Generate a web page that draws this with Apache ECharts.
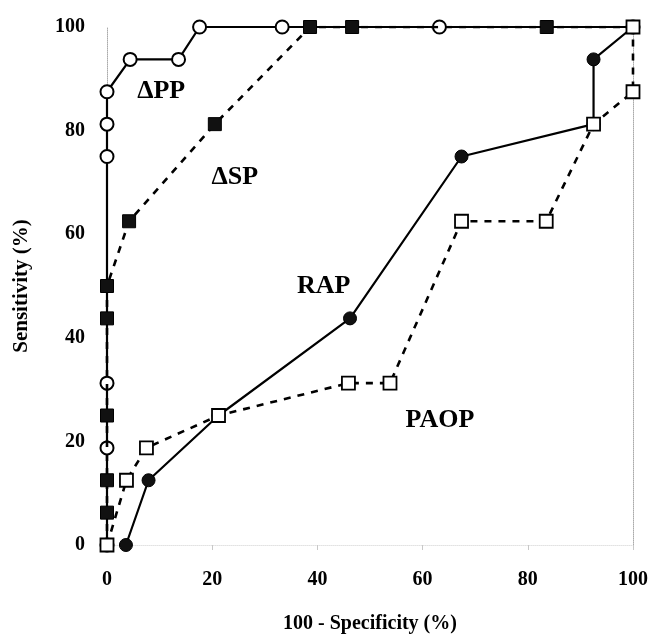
<!DOCTYPE html>
<html>
<head>
<meta charset="utf-8">
<script src="https://cdn.jsdelivr.net/npm/echarts@6/dist/echarts.min.js"></script>
<style>
  html, body { margin: 0; padding: 0; background: #fff; }
  #chart { width: 653px; height: 636px; }
</style>
</head>
<body>
<div id="chart"></div>
<script>
// ROC curves: sensitivity vs (100 - specificity), both in percent
const xTicks = [0, 20, 40, 60, 80, 100];
const yTicks = [0, 20, 40, 60, 80, 100];

// ΔPP (open circles, solid line)
const dppX = [0, 0, 0, 0, 0, 0, 4.4, 13.6, 17.6, 33.3, 63.2, 100];
const dppY = [0, 18.75, 31.25, 75, 81.25, 87.5, 93.75, 93.75, 100, 100, 100, 100];

// ΔSP (filled squares, dotted line)
const dspX = [0, 0, 0, 0, 0, 0, 4.2, 20.5, 38.6, 46.6, 83.6, 100];
const dspY = [0, 6.25, 12.5, 25, 43.75, 50, 62.5, 81.25, 100, 100, 100, 100];

// RAP (filled circles, solid line)
const rapX = [3.6, 7.9, 21.2, 46.2, 67.4, 92.5, 92.5, 100];
const rapY = [0, 12.5, 25, 43.75, 75, 81.25, 93.75, 100];

// PAOP (open squares, dotted line)
const paopX = [0, 3.7, 7.5, 21.2, 45.9, 53.8, 67.4, 83.5, 92.5, 100, 100];
const paopY = [0, 12.5, 18.75, 25, 31.25, 31.25, 62.5, 62.5, 81.25, 87.5, 100];

// curve names written inside the plot
const curveNames = ['\u0394PP', '\u0394SP', 'RAP', 'PAOP'];

const pairs = (xs, ys) => xs.map((x, i) => [x, ys[i]]);

const FONT = '"Liberation Serif", "DejaVu Serif", serif';
const INK = '#000';

const chart = echarts.init(document.getElementById('chart'), null, { renderer: 'canvas' });

// where each curve name sits, in data units
const namePlaces = [[10.3, 87.6], [24.3, 71], [41.2, 50], [63.3, 24.1]];

const option = {
  animation: false,
  backgroundColor: '#fff',
  grid: { left: 107, right: 20, top: 27, bottom: 91, containLabel: false, outerBoundsMode: 'none' },
  xAxis: {
    type: 'value',
    min: xTicks[0],
    max: xTicks[xTicks.length - 1],
    interval: 20,
    name: '100 - Specificity (%)',
    nameLocation: 'middle',
    nameGap: 69,
    nameTextStyle: { fontFamily: FONT, fontWeight: 'bold', fontSize: 20, color: INK },
    axisLine: { show: true, lineStyle: { color: '#e2e2e2', type: 'dotted', width: 1 } },
    axisTick: { show: true, length: 5, lineStyle: { color: '#c8c8c8' } },
    axisLabel: { margin: 25, fontFamily: FONT, fontWeight: 'bold', fontSize: 20, color: INK },
    splitLine: { show: false }
  },
  yAxis: [{
    type: 'value',
    min: yTicks[0],
    max: yTicks[yTicks.length - 1],
    interval: 20,
    name: 'Sensitivity (%)',
    nameLocation: 'middle',
    nameGap: 75,
    nameTextStyle: { fontFamily: FONT, fontWeight: 'bold', fontSize: 21, color: INK },
    axisLine: { show: true, lineStyle: { color: '#aaa', type: 'dotted', width: 1 } },
    axisTick: { show: false },
    axisLabel: { margin: 22, fontFamily: FONT, fontWeight: 'bold', fontSize: 20, color: INK },
    splitLine: { show: false }
  }, {
    type: 'value',
    position: 'right',
    min: 0, max: 100, interval: 20,
    axisLine: { show: true, lineStyle: { color: '#aaa', type: 'dotted', width: 1 } },
    axisTick: { show: false },
    axisLabel: { show: false },
    splitLine: { show: false }
  }],
  series: [
    {
      name: curveNames[0],
      type: 'line',
      data: pairs(dppX, dppY),
      symbol: 'circle',
      symbolSize: 13,
      itemStyle: { color: '#fff', borderColor: INK, borderWidth: 2 },
      lineStyle: { color: INK, width: 2.2 },
      z: 2
    },
    {
      name: curveNames[1],
      type: 'line',
      data: pairs(dspX, dspY),
      symbol: 'rect',
      symbolSize: 13,
      itemStyle: { color: '#111', borderColor: INK, borderWidth: 1 },
      lineStyle: { color: INK, width: 2.6, type: [7, 7] },
      z: 3
    },
    {
      name: curveNames[2],
      type: 'line',
      data: pairs(rapX, rapY),
      symbol: 'circle',
      symbolSize: 13,
      itemStyle: { color: '#111', borderColor: INK, borderWidth: 1 },
      lineStyle: { color: INK, width: 2.2 },
      z: 4
    },
    {
      name: curveNames[3],
      type: 'line',
      data: pairs(paopX, paopY),
      symbol: 'rect',
      symbolSize: 13,
      itemStyle: { color: '#fff', borderColor: INK, borderWidth: 1.8 },
      lineStyle: { color: INK, width: 2.6, type: [7, 7] },
      z: 5
    },
    {
      name: 'curve names',
      type: 'scatter',
      symbolSize: 1,
      silent: true,
      itemStyle: { opacity: 0 },
      data: namePlaces.map((p, i) => ({ value: p, name: curveNames[i] })),
      label: {
        show: true,
        position: 'inside',
        formatter: (p) => p.name,
        fontFamily: FONT,
        fontWeight: 'bold',
        fontSize: 26,
        color: INK,
        textBorderWidth: 0,
        opacity: 1
      },
      z: 6
    }
  ]
};

chart.setOption(option);
</script>
</body>
</html>
